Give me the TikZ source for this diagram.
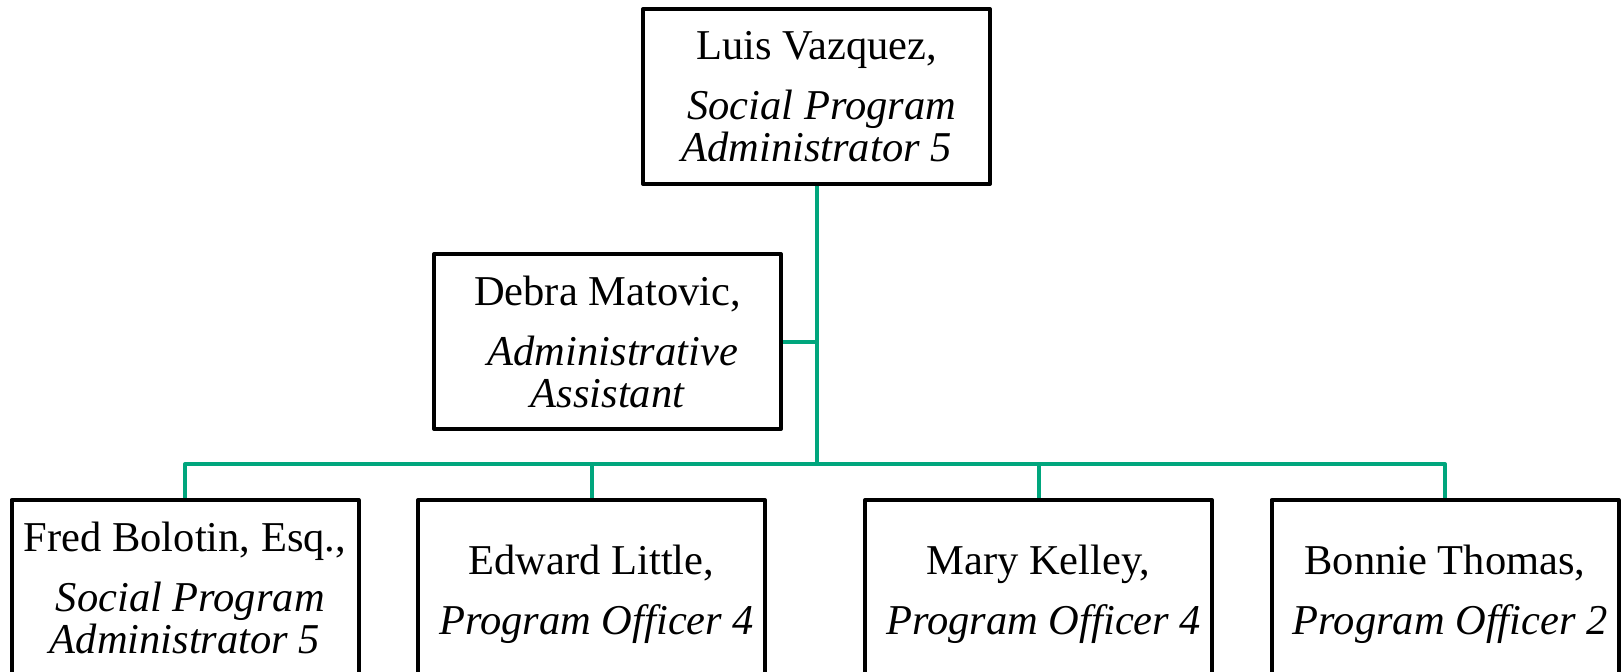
\documentclass[tikz,border=0pt]{standalone}
\usepackage{fontspec}
\setmainfont{Liberation Serif}
\definecolor{linkgreen}{RGB}{0,166,125}
\tikzset{
  orgbox/.style={draw=black, line width=2pt, fill=white, line join=round,
    minimum width=173.5pt, minimum height=87.5pt, inner sep=0pt, align=center,
    font=\fontsize{21.25}{21}\selectfont},
  link/.style={draw=linkgreen, line width=2pt, line join=round}
}
\newcommand{\role}[1]{\hspace*{.25em}{\itshape #1}}
% taller first line, so two-line entries sit a little lower in their boxes
\newcommand{\tallname}[1]{\rule{0pt}{21.5pt}#1}
\begin{document}
\begin{tikzpicture}[x=0.5pt, y=-0.5pt]
  \useasboundingbox (0,0) rectangle (1623,671);

  % director
  \node[orgbox] (top) at (816.5,96.5)
    {Luis Vazquez,\\[9pt]\role{Social Program}\\{\itshape Administrator 5}};

  % staff support
  \node[orgbox] (debra) at (607.5,341.5)
    {Debra Matovic,\\[9pt]\role{Administrative}\\{\itshape Assistant}};

  % direct reports
  \node[orgbox] (fred) at (185,587.5)
    {Fred Bolotin, Esq.,\\[9pt]\role{Social Program}\\{\itshape Administrator 5}};
  \node[orgbox] (edward) at (591.5,587.5)
    {\tallname{Edward Little,}\\[9pt]\role{Program Officer 4}};
  \node[orgbox] (mary) at (1038.5,587.5)
    {\tallname{Mary Kelley,}\\[9pt]\role{Program Officer 4}};
  \node[orgbox] (bonnie) at (1445,587.5)
    {\tallname{Bonnie Thomas,}\\[9pt]\role{Program Officer 2}};

  % reporting lines
  \coordinate (bus) at (817,464);
  \draw[link] (top.south) -- (top.south |- bus);
  \draw[link] (debra.east) -- (debra.east -| top.south);
  \draw[link] (fred.north) |- (bus) -| (bonnie.north);
  \draw[link] (edward.north) -- (edward.north |- bus);
  \draw[link] (mary.north) -- (mary.north |- bus);
\end{tikzpicture}
\end{document}
